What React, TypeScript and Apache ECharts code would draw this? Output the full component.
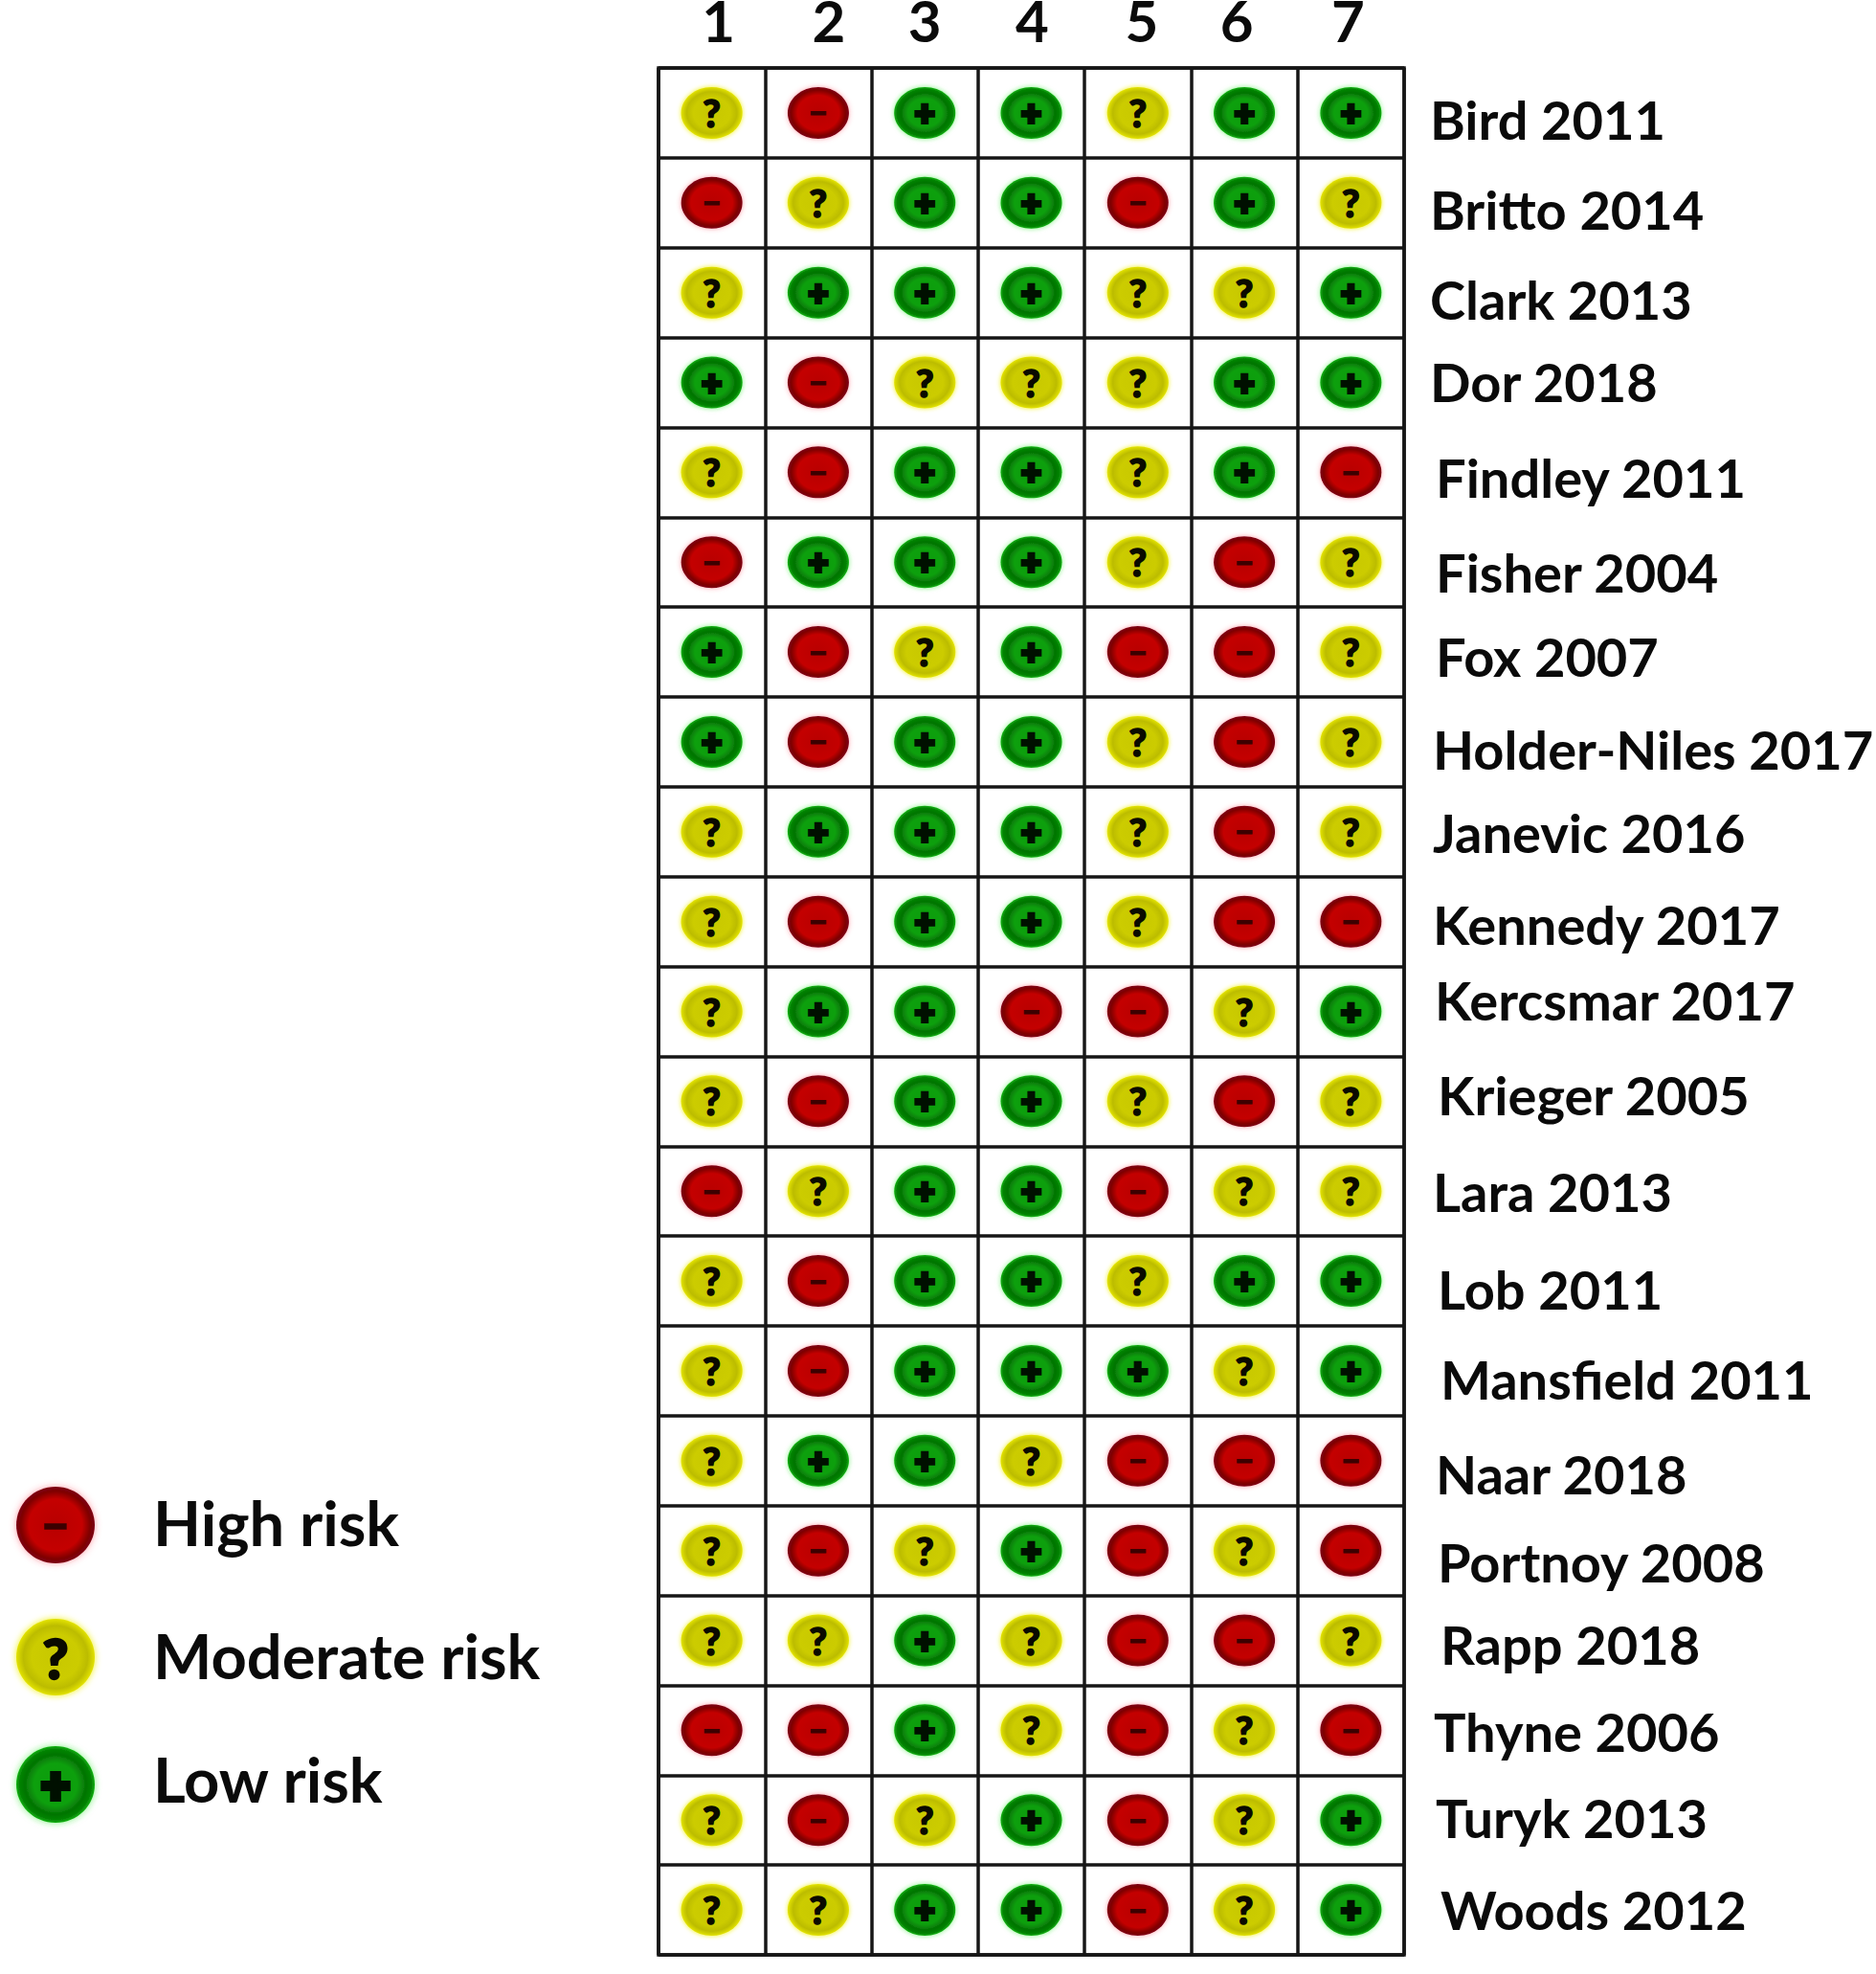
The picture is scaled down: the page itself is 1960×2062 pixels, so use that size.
import React, { useEffect, useRef } from "react";
import * as echarts from "echarts";

const columnLabels = ["1", "2", "3", "4", "5", "6", "7"];
const studies = [
  "Bird 2011", "Britto 2014", "Clark 2013", "Dor 2018", "Findley 2011", "Fisher 2004", "Fox 2007",
  "Holder-Niles 2017", "Janevic 2016", "Kennedy 2017", "Kercsmar 2017", "Krieger 2005", "Lara 2013",
  "Lob 2011", "Mansfield 2011", "Naar 2018", "Portnoy 2008", "Rapp 2018", "Thyne 2006", "Turyk 2013", "Woods 2012",
];
// H = high risk, M = moderate risk, L = low risk
const domain1 = "MHMLMHLLMMMMHMMMMMHMM".split("");
const domain2 = "HMLHHLHHLHLHMHHLHMHHM".split("");
const domain3 = "LLLMLLMLLLLLLLLLMLLML".split("");
const domain4 = "LLLMLLLLLLHLLLLMLMMLL".split("");
const domain5 = "MHMMMMHMMMHMHMLHHHHHH".split("");
const domain6 = "LLMLLHHHHHMHMLMHMHMMM".split("");
const domain7 = "LMLLHMMMMHLMMLLHHMHLL".split("");
const domains = [domain1, domain2, domain3, domain4, domain5, domain6, domain7];

const legendLabels = ["High risk", "Moderate risk", "Low risk"];
const legendLevels = ["H", "M", "L"];

// label nudges that reproduce the hand-placed labels of the source figure
const studyDx = [0, 0, 0, 0, 6, 6, 6, 3, 3, 3, 5, 8, 3, 8, 11, 6, 8, 11, 4, 6, 11];
const studyDy = [7, 7, 7, -1, 5, 10, 4, 8, 1, 3, -12, -7, 0, 8, 9, 14, 12, 4, 1, -3, -1];
const columnDx = [7, 11, 0, 1, 4, -8, -3];

const FONT = "Lato";
const STYLE: any = {
  H: {
    stops: [[0, "#b80000"], [0.68, "#c40000"], [0.88, "#800000"], [1, "#7a0014"]],
    glyph: "\u2212", glyphColor: "#3c0000", size: 34, stroke: 1, shadow: "rgba(255,60,80,0.5)",
  },
  M: {
    stops: [[0, "#c8c800"], [0.6, "#cccc00"], [0.82, "#bcbc00"], [1, "#e2e200"]],
    glyph: "?", glyphColor: "#0a0a00", size: 40, stroke: 1.6, shadow: "rgba(240,240,0,0.9)",
  },
  L: {
    stops: [[0, "#0c9c0c"], [0.55, "#10a010"], [0.78, "#047404"], [0.92, "#068406"], [1, "#0cb00c"]],
    glyph: "+", glyphColor: "#001000", size: 36, stroke: 4, shadow: "rgba(40,230,40,0.6)",
  },
};

const fillOf = (level: string) => ({
  type: "radial", x: 0.5, y: 0.5, r: 0.5,
  colorStops: STYLE[level].stops.map((s: any[]) => ({ offset: s[0], color: s[1] })),
});

function marker(level: string, cx: number, cy: number, rx: number, ry: number, k: number) {
  const st = STYLE[level];
  return [
    {
      type: "ellipse",
      shape: { cx, cy, rx, ry },
      style: { fill: fillOf(level), shadowBlur: 5 * k, shadowColor: st.shadow },
    },
    {
      type: "text",
      style: {
        x: cx, y: cy - (level === "M" ? 0 : 1),
        text: st.glyph, align: "center", verticalAlign: "middle",
        fill: st.glyphColor, stroke: st.glyphColor, lineWidth: st.stroke * k,
        font: `900 ${Math.round(st.size * k)}px ${FONT}`,
      },
    },
  ];
}

const cells: any[] = [];
domains.forEach((values, c) => values.forEach((level, r) => cells.push([c, r, level])));
const lastColumn = columnLabels.length - 1;

export default function App() {
  const ref = useRef<HTMLDivElement>(null);
  useEffect(() => {
    const chart = echarts.init(ref.current!, undefined, { renderer: "svg" });
    chart.setOption({
      animation: false,
      backgroundColor: "#fff",
      grid: {
        left: 688, top: 71, width: 779, height: 1971, containLabel: false, outerBoundsMode: "none",
        show: true, borderColor: "#161616", borderWidth: 3.5, backgroundColor: "transparent",
      },
      xAxis: {
        type: "category", position: "top",
        data: columnLabels.map((v, i) => ({
          value: v,
          textStyle: { padding: [0, columnDx[i] < 0 ? -2 * columnDx[i] : 0, 0, columnDx[i] > 0 ? 2 * columnDx[i] : 0] },
        })),
        axisLine: { show: false }, axisTick: { show: false },
        splitLine: { show: true, interval: 0, lineStyle: { color: "#161616", width: 3.5 } },
        axisLabel: {
          interval: 0, margin: 27, color: "#0a0a0a", lineHeight: 46,
          fontFamily: FONT, fontWeight: "bold", fontSize: 60,
        },
      },
      yAxis: {
        type: "category", position: "right", inverse: true,
        data: studies,
        axisLine: { show: false }, axisTick: { show: false }, axisLabel: { show: false },
        splitLine: { show: true, interval: 0, lineStyle: { color: "#161616", width: 3.5 } },
      },
      series: [
        {
          type: "custom",
          coordinateSystem: "cartesian2d",
          data: cells,
          encode: { x: 0, y: 1 },
          renderItem: (p: any, api: any) => {
            const [cx, cy] = api.coord([api.value(0), api.value(1)]);
            return { type: "group", children: marker(cells[p.dataIndex][2], cx, cy, 32, 27, 1) };
          },
        },
        {
          type: "custom",
          coordinateSystem: "cartesian2d",
          data: studies.map((_, r) => [lastColumn, r]),
          encode: { x: 0, y: 1 },
          renderItem: (p: any, api: any) => {
            const [cx, cy] = api.coord([api.value(0), api.value(1)]);
            const cellWidth = api.size([1, 0])[0];
            const i = p.dataIndex;
            return {
              type: "text",
              style: {
                x: cx + cellWidth / 2 + 27 + studyDx[i],
                y: cy + studyDy[i],
                text: studies[i], align: "left", verticalAlign: "middle",
                fill: "#0a0a0a", font: `bold 56px ${FONT}`,
              },
            };
          },
        },
      ],
      graphic: legendLabels.flatMap((label, i) => {
        const y = [1593, 1731, 1864][i];
        return [
          ...marker(legendLevels[i], 58, y, 41, 40, 1.45).map((m: any) => ({ ...m, silent: true })),
          {
            type: "text", x: 160, y: [1590, 1729, 1858][i],
            style: {
              text: label, fill: "#0a0a0a", verticalAlign: "middle",
              font: `bold 65px ${FONT}`,
            },
          },
        ];
      }),
    });
    return () => chart.dispose();
  }, []);
  return <div ref={ref} style={{ position: "absolute", left: 0, top: 0, width: 1960, height: 2062 }} />;
}
